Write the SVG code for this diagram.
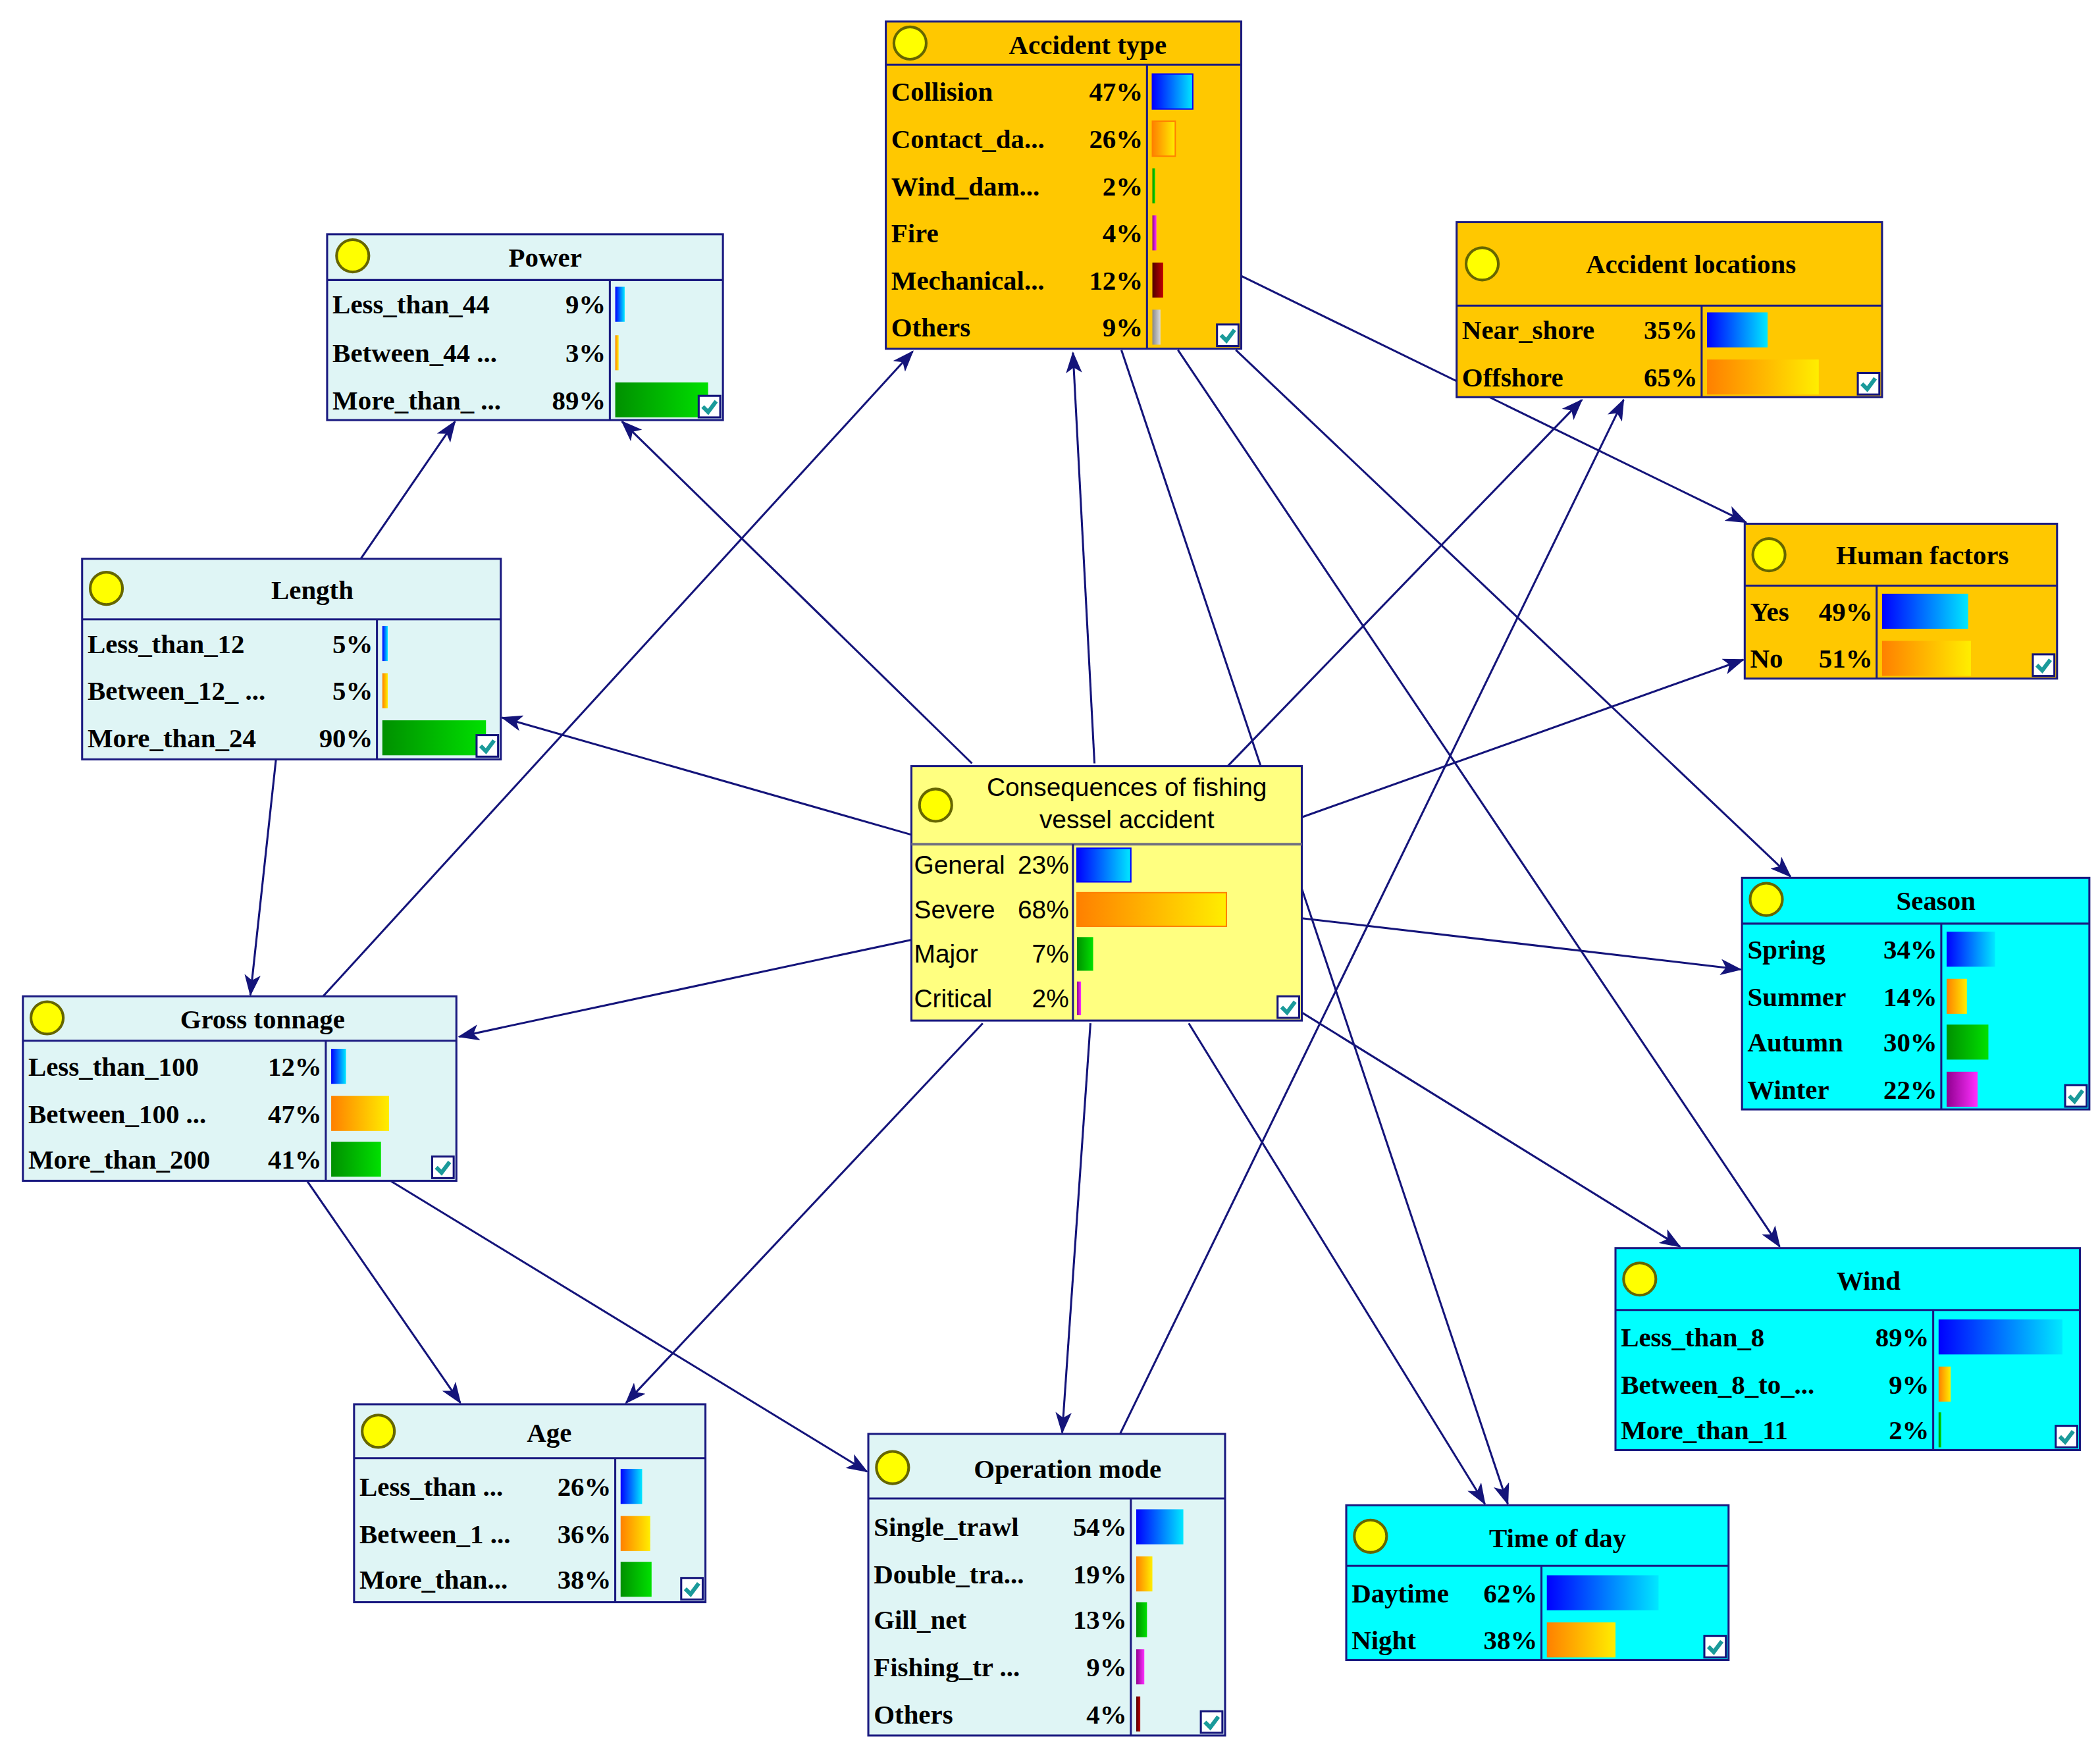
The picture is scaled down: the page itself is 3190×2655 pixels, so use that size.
<svg xmlns="http://www.w3.org/2000/svg" width="3190" height="2655" viewBox="0 0 3190 2655">
<defs>
<linearGradient id="gb"><stop offset="0" stop-color="#0000ff"/><stop offset="1" stop-color="#00e8ff"/></linearGradient>
<linearGradient id="go"><stop offset="0" stop-color="#ff8000"/><stop offset="1" stop-color="#ffee00"/></linearGradient>
<linearGradient id="gg"><stop offset="0" stop-color="#009000"/><stop offset="1" stop-color="#00e000"/></linearGradient>
<linearGradient id="gm"><stop offset="0" stop-color="#900090"/><stop offset="1" stop-color="#ff30ff"/></linearGradient>
<linearGradient id="gr"><stop offset="0" stop-color="#500000"/><stop offset="1" stop-color="#c00000"/></linearGradient>
<linearGradient id="gy"><stop offset="0" stop-color="#888"/><stop offset="1" stop-color="#ddd"/></linearGradient>
<marker id="ar" markerWidth="16" markerHeight="12" refX="15" refY="6" orient="auto" markerUnits="userSpaceOnUse"><path d="M0,0 L16,6 L0,12 L4,6 Z" fill="#14147a"/></marker>
<g id="chk"><rect x="0" y="0" width="16" height="16" fill="#fff" stroke="#14147a" stroke-width="1.5"/><path d="M3,8 L7,12 L13,4" fill="none" stroke="#1a9a9a" stroke-width="3"/></g>
</defs>
<style>
.b{stroke:#1a1a80;stroke-width:1.5}
.l{stroke:#1a1a80;stroke-width:1.5}
.t{font-family:"Liberation Serif",serif;font-weight:bold;font-size:20px;fill:#000}
.s{font-family:"Liberation Sans",sans-serif;font-size:19px;fill:#000}
.c{fill:#ffff00;stroke:#666600;stroke-width:2}
.e{stroke:#14147a;stroke-width:1.5;fill:none;marker-end:url(#ar)}
.lc{fill:#dff5f5}.or{fill:#ffc800}.cy{fill:#00ffff}.yl{fill:#ffff80}
</style>
<rect width="3190" height="2655" fill="#fff"/>
<g transform="scale(2.045)">
<g id="edges">
<line class="e" x1="813" y1="567" x2="797" y2="262"/>
<line class="e" x1="722" y1="567" x2="462" y2="313"/>
<line class="e" x1="677" y1="620" x2="373" y2="533"/>
<line class="e" x1="677" y1="698" x2="341" y2="770"/>
<line class="e" x1="730" y1="760" x2="465" y2="1042"/>
<line class="e" x1="810" y1="760" x2="789" y2="1064"/>
<line class="e" x1="883" y1="760" x2="1103" y2="1117"/>
<line class="e" x1="967" y1="752" x2="1248" y2="926"/>
<line class="e" x1="967" y1="682" x2="1293" y2="720"/>
<line class="e" x1="967" y1="607" x2="1295" y2="490"/>
<line class="e" x1="912" y1="569" x2="1175" y2="297"/>
<line class="e" x1="833" y1="260" x2="1120" y2="1117"/>
<line class="e" x1="875" y1="260" x2="1322" y2="926"/>
<line class="e" x1="918" y1="260" x2="1330" y2="651"/>
<line class="e" x1="922" y1="205" x2="1297" y2="388"/>
<line class="e" x1="240" y1="740" x2="678" y2="261"/>
<line class="e" x1="832" y1="1065" x2="1206" y2="297"/>
<line class="e" x1="268" y1="415" x2="338" y2="313"/>
<line class="e" x1="205" y1="564" x2="186" y2="739"/>
<line class="e" x1="228" y1="877" x2="342" y2="1042"/>
<line class="e" x1="290" y1="877" x2="644" y2="1093"/>
</g>

<g id="accident-type">
<rect class="b or" x="658" y="16" width="264" height="243"/>
<line class="l" x1="658" y1="48" x2="922" y2="48"/><line class="l" x1="852" y1="48" x2="852" y2="259"/>
<circle class="c" cx="676" cy="32" r="12"/>
<text class="t" x="808" y="40" text-anchor="middle">Accident type</text>
<text class="t" x="662" y="75">Collision</text><text class="t" x="849" y="75" text-anchor="end">47%</text><rect x="856" y="55" width="30" height="26" fill="url(#gb)" stroke="#00f"/>
<text class="t" x="662" y="110">Contact_da...</text><text class="t" x="849" y="110" text-anchor="end">26%</text><rect x="856" y="90" width="17" height="26" fill="url(#go)" stroke="#ff8000"/>
<text class="t" x="662" y="145">Wind_dam...</text><text class="t" x="849" y="145" text-anchor="end">2%</text><rect x="856" y="125" width="2" height="26" fill="url(#gg)"/>
<text class="t" x="662" y="180">Fire</text><text class="t" x="849" y="180" text-anchor="end">4%</text><rect x="856" y="160" width="3" height="26" fill="url(#gm)"/>
<text class="t" x="662" y="215">Mechanical...</text><text class="t" x="849" y="215" text-anchor="end">12%</text><rect x="856" y="195" width="8" height="26" fill="url(#gr)"/>
<text class="t" x="662" y="250">Others</text><text class="t" x="849" y="250" text-anchor="end">9%</text><rect x="856" y="230" width="6" height="26" fill="url(#gy)"/>
<use href="#chk" x="904" y="241"/>
</g>

<g id="power">
<rect class="b lc" x="243" y="174" width="294" height="138"/>
<line class="l" x1="243" y1="208" x2="537" y2="208"/><line class="l" x1="453" y1="208" x2="453" y2="312"/>
<circle class="c" cx="262" cy="190" r="12"/>
<text class="t" x="405" y="198" text-anchor="middle">Power</text>
<text class="t" x="247" y="233">Less_than_44</text><text class="t" x="450" y="233" text-anchor="end">9%</text><rect x="457" y="213" width="7" height="26" fill="url(#gb)"/>
<text class="t" x="247" y="269">Between_44 ...</text><text class="t" x="450" y="269" text-anchor="end">3%</text><rect x="457" y="249" width="2.5" height="26" fill="url(#go)"/>
<text class="t" x="247" y="304">More_than_ ...</text><text class="t" x="450" y="304" text-anchor="end">89%</text><rect x="457" y="284" width="69" height="26" fill="url(#gg)"/>
<use href="#chk" x="519" y="294"/>
</g>

<g id="length">
<rect class="b lc" x="61" y="415" width="311" height="149"/>
<line class="l" x1="61" y1="460" x2="372" y2="460"/><line class="l" x1="280" y1="460" x2="280" y2="564"/>
<circle class="c" cx="79" cy="437" r="12"/>
<text class="t" x="232" y="445" text-anchor="middle">Length</text>
<text class="t" x="65" y="485">Less_than_12</text><text class="t" x="277" y="485" text-anchor="end">5%</text><rect x="284" y="465" width="4" height="26" fill="url(#gb)"/>
<text class="t" x="65" y="520">Between_12_ ...</text><text class="t" x="277" y="520" text-anchor="end">5%</text><rect x="284" y="500" width="4" height="26" fill="url(#go)"/>
<text class="t" x="65" y="555">More_than_24</text><text class="t" x="277" y="555" text-anchor="end">90%</text><rect x="284" y="535" width="77" height="26" fill="url(#gg)"/>
<use href="#chk" x="354" y="546"/>
</g>

<g id="gross-tonnage">
<rect class="b lc" x="17" y="740" width="322" height="137"/>
<line class="l" x1="17" y1="773" x2="339" y2="773"/><line class="l" x1="242" y1="773" x2="242" y2="877"/>
<circle class="c" cx="35" cy="756" r="12"/>
<text class="t" x="195" y="764" text-anchor="middle">Gross tonnage</text>
<text class="t" x="21" y="799">Less_than_100</text><text class="t" x="239" y="799" text-anchor="end">12%</text><rect x="246" y="779" width="11" height="26" fill="url(#gb)"/>
<text class="t" x="21" y="834">Between_100 ...</text><text class="t" x="239" y="834" text-anchor="end">47%</text><rect x="246" y="814" width="43" height="26" fill="url(#go)"/>
<text class="t" x="21" y="868">More_than_200</text><text class="t" x="239" y="868" text-anchor="end">41%</text><rect x="246" y="848" width="37" height="26" fill="url(#gg)"/>
<use href="#chk" x="321" y="859"/>
</g>

<g id="age">
<rect class="b lc" x="263" y="1043" width="261" height="147"/>
<line class="l" x1="263" y1="1083" x2="524" y2="1083"/><line class="l" x1="457" y1="1083" x2="457" y2="1190"/>
<circle class="c" cx="281" cy="1063" r="12"/>
<text class="t" x="408" y="1071" text-anchor="middle">Age</text>
<text class="t" x="267" y="1111">Less_than ...</text><text class="t" x="454" y="1111" text-anchor="end">26%</text><rect x="461" y="1091" width="16" height="26" fill="url(#gb)"/>
<text class="t" x="267" y="1146">Between_1 ...</text><text class="t" x="454" y="1146" text-anchor="end">36%</text><rect x="461" y="1126" width="22" height="26" fill="url(#go)"/>
<text class="t" x="267" y="1180">More_than...</text><text class="t" x="454" y="1180" text-anchor="end">38%</text><rect x="461" y="1160" width="23" height="26" fill="url(#gg)"/>
<use href="#chk" x="506" y="1172"/>
</g>

<g id="operation-mode">
<rect class="b lc" x="645" y="1065" width="265" height="224"/>
<line class="l" x1="645" y1="1113" x2="910" y2="1113"/><line class="l" x1="840" y1="1113" x2="840" y2="1289"/>
<circle class="c" cx="663" cy="1090" r="12"/>
<text class="t" x="793" y="1098" text-anchor="middle">Operation mode</text>
<text class="t" x="649" y="1141">Single_trawl</text><text class="t" x="837" y="1141" text-anchor="end">54%</text><rect x="844" y="1121" width="35" height="26" fill="url(#gb)"/>
<text class="t" x="649" y="1176">Double_tra...</text><text class="t" x="837" y="1176" text-anchor="end">19%</text><rect x="844" y="1156" width="12" height="26" fill="url(#go)"/>
<text class="t" x="649" y="1210">Gill_net</text><text class="t" x="837" y="1210" text-anchor="end">13%</text><rect x="844" y="1190" width="8" height="26" fill="url(#gg)"/>
<text class="t" x="649" y="1245">Fishing_tr ...</text><text class="t" x="837" y="1245" text-anchor="end">9%</text><rect x="844" y="1225" width="6" height="26" fill="url(#gm)"/>
<text class="t" x="649" y="1280">Others</text><text class="t" x="837" y="1280" text-anchor="end">4%</text><rect x="844" y="1260" width="3" height="26" fill="url(#gr)"/>
<use href="#chk" x="892" y="1271"/>
</g>

<g id="time-of-day">
<rect class="b cy" x="1000" y="1118" width="284" height="115"/>
<line class="l" x1="1000" y1="1163" x2="1284" y2="1163"/><line class="l" x1="1145" y1="1163" x2="1145" y2="1233"/>
<circle class="c" cx="1018" cy="1141" r="12"/>
<text class="t" x="1157" y="1149" text-anchor="middle">Time of day</text>
<text class="t" x="1004" y="1190">Daytime</text><text class="t" x="1142" y="1190" text-anchor="end">62%</text><rect x="1149" y="1170" width="83" height="26" fill="url(#gb)"/>
<text class="t" x="1004" y="1225">Night</text><text class="t" x="1142" y="1225" text-anchor="end">38%</text><rect x="1149" y="1205" width="51" height="26" fill="url(#go)"/>
<use href="#chk" x="1266" y="1215"/>
</g>

<g id="wind">
<rect class="b cy" x="1200" y="927" width="345" height="150"/>
<line class="l" x1="1200" y1="973" x2="1545" y2="973"/><line class="l" x1="1436" y1="973" x2="1436" y2="1077"/>
<circle class="c" cx="1218" cy="950" r="12"/>
<text class="t" x="1388" y="958" text-anchor="middle">Wind</text>
<text class="t" x="1204" y="1000">Less_than_8</text><text class="t" x="1433" y="1000" text-anchor="end">89%</text><rect x="1440" y="980" width="92" height="26" fill="url(#gb)"/>
<text class="t" x="1204" y="1035">Between_8_to_...</text><text class="t" x="1433" y="1035" text-anchor="end">9%</text><rect x="1440" y="1015" width="9" height="26" fill="url(#go)"/>
<text class="t" x="1204" y="1069">More_than_11</text><text class="t" x="1433" y="1069" text-anchor="end">2%</text><rect x="1440" y="1049" width="2" height="26" fill="url(#gg)"/>
<use href="#chk" x="1527" y="1059"/>
</g>

<g id="season">
<rect class="b cy" x="1294" y="652" width="258" height="172"/>
<line class="l" x1="1294" y1="686" x2="1552" y2="686"/><line class="l" x1="1442" y1="686" x2="1442" y2="824"/>
<circle class="c" cx="1312" cy="668" r="12"/>
<text class="t" x="1438" y="676" text-anchor="middle">Season</text>
<text class="t" x="1298" y="712">Spring</text><text class="t" x="1439" y="712" text-anchor="end">34%</text><rect x="1446" y="692" width="36" height="26" fill="url(#gb)"/>
<text class="t" x="1298" y="747">Summer</text><text class="t" x="1439" y="747" text-anchor="end">14%</text><rect x="1446" y="727" width="15" height="26" fill="url(#go)"/>
<text class="t" x="1298" y="781">Autumn</text><text class="t" x="1439" y="781" text-anchor="end">30%</text><rect x="1446" y="761" width="31" height="26" fill="url(#gg)"/>
<text class="t" x="1298" y="816">Winter</text><text class="t" x="1439" y="816" text-anchor="end">22%</text><rect x="1446" y="796" width="23" height="26" fill="url(#gm)"/>
<use href="#chk" x="1534" y="806"/>
</g>

<g id="human-factors">
<rect class="b or" x="1296" y="389" width="232" height="115"/>
<line class="l" x1="1296" y1="435" x2="1528" y2="435"/><line class="l" x1="1394" y1="435" x2="1394" y2="504"/>
<circle class="c" cx="1314" cy="412" r="12"/>
<text class="t" x="1428" y="419" text-anchor="middle">Human factors</text>
<text class="t" x="1300" y="461">Yes</text><text class="t" x="1391" y="461" text-anchor="end">49%</text><rect x="1398" y="441" width="64" height="26" fill="url(#gb)"/>
<text class="t" x="1300" y="496">No</text><text class="t" x="1391" y="496" text-anchor="end">51%</text><rect x="1398" y="476" width="66" height="26" fill="url(#go)"/>
<use href="#chk" x="1510" y="486"/>
</g>

<g id="accident-locations">
<rect class="b or" x="1082" y="165" width="316" height="130"/>
<line class="l" x1="1082" y1="227" x2="1398" y2="227"/><line class="l" x1="1264" y1="227" x2="1264" y2="295"/>
<circle class="c" cx="1101" cy="196" r="12"/>
<text class="t" x="1256" y="203" text-anchor="middle">Accident locations</text>
<text class="t" x="1086" y="252">Near_shore</text><text class="t" x="1261" y="252" text-anchor="end">35%</text><rect x="1268" y="232" width="45" height="26" fill="url(#gb)"/>
<text class="t" x="1086" y="287">Offshore</text><text class="t" x="1261" y="287" text-anchor="end">65%</text><rect x="1268" y="267" width="83" height="26" fill="url(#go)"/>
<use href="#chk" x="1380" y="277"/>
</g>

<g id="consequences">
<rect class="b yl" x="677" y="569" width="290" height="189"/>
<line x1="677" y1="627" x2="967" y2="627" stroke="#707080" stroke-width="2"/><line class="l" x1="797" y1="627" x2="797" y2="758"/>
<circle class="c" cx="695" cy="598" r="12"/>
<text class="s" x="837" y="591" text-anchor="middle">Consequences of fishing</text>
<text class="s" x="837" y="615" text-anchor="middle">vessel accident</text>
<text class="s" x="679" y="649">General</text><text class="s" x="794" y="649" text-anchor="end">23%</text><rect x="800" y="630" width="40" height="25" fill="url(#gb)" stroke="#00f"/>
<text class="s" x="679" y="682">Severe</text><text class="s" x="794" y="682" text-anchor="end">68%</text><rect x="800" y="663" width="111" height="25" fill="url(#go)" stroke="#ff8000"/>
<text class="s" x="679" y="715">Major</text><text class="s" x="794" y="715" text-anchor="end">7%</text><rect x="800" y="696" width="12" height="25" fill="url(#gg)"/>
<text class="s" x="679" y="748">Critical</text><text class="s" x="794" y="748" text-anchor="end">2%</text><rect x="800" y="729" width="3" height="25" fill="url(#gm)"/>
<use href="#chk" x="949" y="740"/>
</g>
</g>
</svg>
